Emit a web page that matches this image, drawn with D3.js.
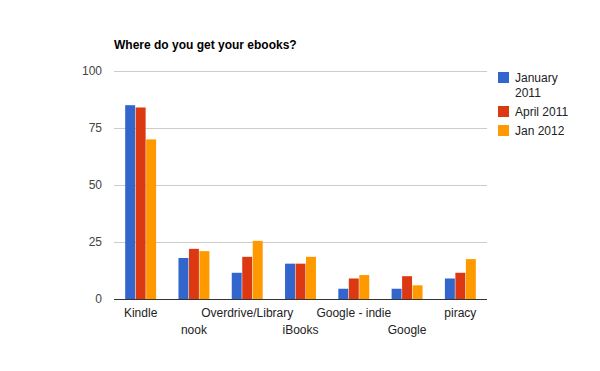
<!DOCTYPE html>
<html>
<head>
<meta charset="utf-8">
<script src="https://cdn.jsdelivr.net/npm/d3@7"></script>
<style>
  body { margin: 0; background: #fff; }
  text { font-family: Arial, "Liberation Sans", sans-serif; }
</style>
</head>
<body>
<div id="chart"></div>
<script>
// Plot constants
const WIDTH = 600;
const HEIGHT = 371;
const margin = {top: 71, left: 114, right: 113, bottom: 72};

// Data
const categories = ["Kindle", "nook", "Overdrive/Library", "iBooks", "Google - indie", "Google", "piracy"];
const seriesNames = ["January 2011", "April 2011", "Jan 2012"];
const jan2011 = [85, 18, 11.5, 15.5, 4.5, 4.5, 9];
const apr2011 = [84, 22, 18.5, 15.5, 9, 10, 11.5];
const jan2012 = [70, 21, 25.5, 18.5, 10.5, 6, 17.5];
const yTicks = [0, 25, 50, 75, 100];
const colors = ["#3366cc", "#dc3912", "#ff9900"];

const series = [jan2011, apr2011, jan2012];

const svg = d3.select("#chart")
  .append("svg")
  .attr("width", WIDTH)
  .attr("height", HEIGHT);

const innerW = WIDTH - margin.left - margin.right;
const innerH = HEIGHT - margin.top - margin.bottom;

const g = svg.append("g").attr("transform", `translate(${margin.left},${margin.top})`);

// Title
svg.append("text")
  .attr("x", 114)
  .attr("y", 49)
  .attr("font-size", "12px")
  .attr("font-weight", "bold")
  .attr("fill", "#000")
  .text("Where do you get your ebooks?");

// Scales
const x = d3.scaleBand()
  .domain(categories)
  .range([0, innerW])
  .paddingInner(0.4)
  .paddingOuter(0.2);

const xSub = d3.scaleBand()
  .domain(d3.range(seriesNames.length))
  .range([0, x.bandwidth()])
  .padding(0.05);

const y = d3.scaleLinear().domain([0, 100]).range([innerH, 0]);

// Gridlines
g.selectAll(".grid")
  .data(yTicks.filter(d => d > 0))
  .enter()
  .append("line")
  .attr("x1", 0)
  .attr("x2", innerW)
  .attr("y1", d => Math.round(y(d)) + 0.5)
  .attr("y2", d => Math.round(y(d)) + 0.5)
  .attr("stroke", "#cccccc");

// Y tick labels
g.selectAll(".ytick")
  .data(yTicks)
  .enter()
  .append("text")
  .attr("x", -12)
  .attr("y", d => y(d) + 4)
  .attr("text-anchor", "end")
  .attr("font-size", "12px")
  .attr("fill", "#444")
  .text(d => d);

// Bars
const groups = g.selectAll(".group")
  .data(categories)
  .enter()
  .append("g")
  .attr("transform", d => `translate(${x(d)},0)`);

groups.selectAll("rect")
  .data((d, i) => series.map((s, k) => ({k: k, v: s[i]})))
  .enter()
  .append("rect")
  .attr("x", d => xSub(d.k))
  .attr("width", xSub.bandwidth())
  .attr("y", d => y(d.v))
  .attr("height", d => innerH - y(d.v))
  .attr("fill", d => colors[d.k]);

// Baseline
g.append("line")
  .attr("x1", 0)
  .attr("x2", innerW)
  .attr("y1", innerH + 0.5)
  .attr("y2", innerH + 0.5)
  .attr("stroke", "#333");

// X labels, staggered in two rows
g.selectAll(".xlabel")
  .data(categories)
  .enter()
  .append("text")
  .attr("x", d => x(d) + x.bandwidth() / 2)
  .attr("y", (d, i) => innerH + (i % 2 === 0 ? 18 : 35))
  .attr("text-anchor", "middle")
  .attr("font-size", "12px")
  .attr("fill", "#222")
  .text(d => d);

// Legend
const legend = svg.append("g").attr("transform", "translate(498,0)");
const legendRows = [
  {lines: ["January", "2011"], y: 72},
  {lines: ["April 2011"], y: 106},
  {lines: ["Jan 2012"], y: 125}
];
legendRows.forEach((row, k) => {
  legend.append("rect")
    .attr("x", 0)
    .attr("y", row.y)
    .attr("width", 11)
    .attr("height", 11)
    .attr("fill", colors[k]);
  row.lines.forEach((t, j) => {
    legend.append("text")
      .attr("x", 17)
      .attr("y", row.y + 10 + j * 15)
      .attr("font-size", "12px")
      .attr("fill", "#222")
      .text(t);
  });
});
</script>
</body>
</html>
